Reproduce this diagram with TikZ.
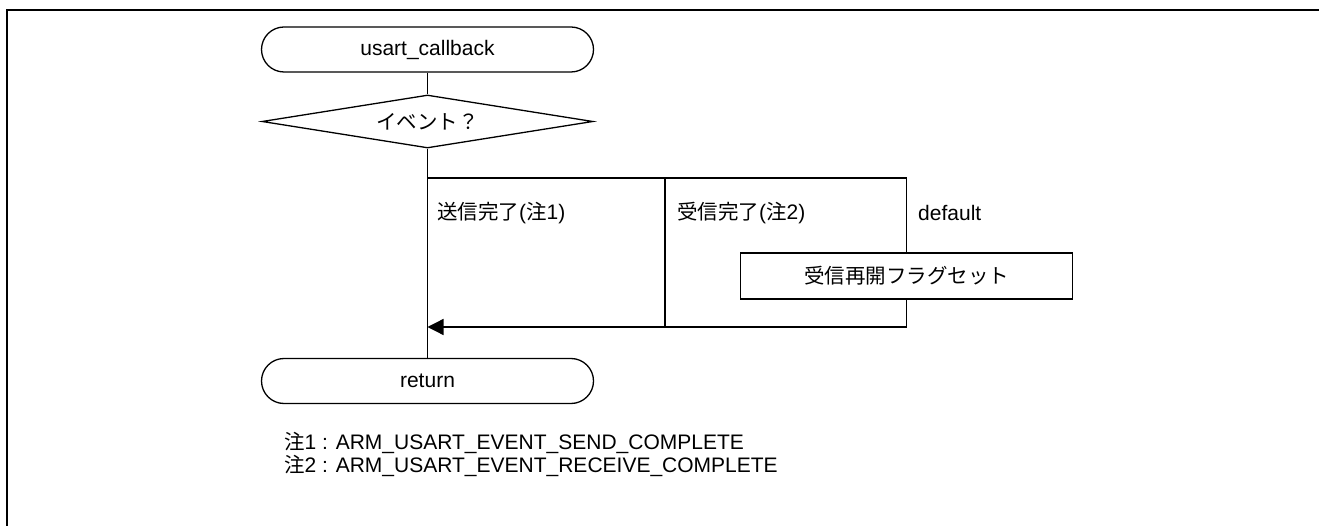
\documentclass[tikz,border=0pt]{standalone}
\usepackage{fontspec}
\setmainfont{Liberation Sans}
\newfontfamily\cjk[Scale=0.976]{Noto Sans CJK JP}
\usetikzlibrary{shapes.geometric,arrows.meta}
\tikzset{
  base/.style={font=\fontsize{21}{24}\selectfont, inner sep=0pt},
  term/.style={base, draw, line width=1.3pt, rectangle, rounded corners=22.5pt, minimum width=332pt, minimum height=45pt},
  decision/.style={base, draw, line width=1.3pt, diamond, aspect=6, minimum width=331pt, minimum height=53pt},
  procbox/.style={base, draw, line width=1.3pt, rectangle, minimum width=332pt, minimum height=46pt},
  lbl/.style={base, anchor=west},
  flow/.style={line width=1.3pt},
  frame/.style={line width=2pt}
}
\begin{document}
\begin{tikzpicture}[x=1pt,y=-1pt]
\useasboundingbox (0,0) rectangle (1319,526);
% frame (top and left edges visible)
\coordinate (fr) at (7,10);
\coordinate (frR) at (1320,10);
\coordinate (frB) at (7,527);
\draw[frame] (frR) -- (fr) -- (frB);

\node[term] (start) at (427.5,49.5) {usart\_callback};
\node[decision] (dec) at (427.5,121.5) {{\cjk イベント？}};
\node[term] (ret) at (427.5,381) {return};
\node[procbox] (box) at (906.5,276) {{\cjk 受信再開フラグセット}};

\coordinate (j1) at (427.5,178);
\coordinate (j2) at (665,178);
\coordinate (j3) at (906.5,178);
\coordinate (m1) at (427.5,327);
\coordinate (m2) at (665,327);
\coordinate (m3) at (906.5,327);

\draw[flow] (start) -- (dec);
\draw[flow] (dec.south) -- (ret.north);
\draw[flow] (j1) -- (j3) -- (box.north);
\draw[flow] (j2) -- (m2);
\draw[flow,-{Triangle[length=16pt,width=16pt]}] (box.south) -- (m3) -- (m1);

\node[lbl] (l1) at (437,213) {{\cjk 送信完了}({\cjk 注}1)};
\node[lbl] (l2) at (677,213) {{\cjk 受信完了}({\cjk 注}2)};
\node[lbl] (l3) at (918,213) {default};

\node[lbl] (n1) at (284,443) {{\cjk 注}1 : ARM\_USART\_EVENT\_SEND\_COMPLETE};
\node[lbl] (n2) at (284,466) {{\cjk 注}2 : ARM\_USART\_EVENT\_RECEIVE\_COMPLETE};
\end{tikzpicture}
\end{document}
